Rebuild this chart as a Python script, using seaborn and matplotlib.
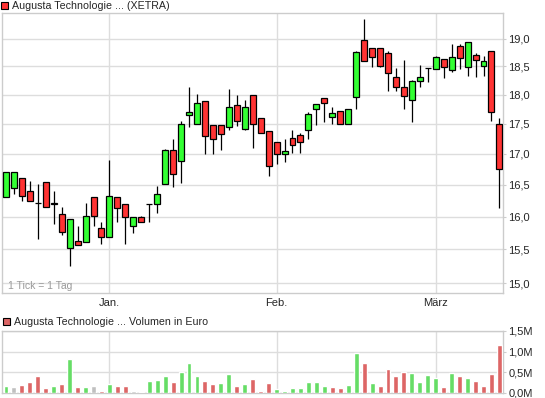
import numpy as np
import pandas as pd
import matplotlib
matplotlib.use("Agg")
import matplotlib.pyplot as plt
from matplotlib.patches import Rectangle
from matplotlib.ticker import FixedLocator, FuncFormatter, NullLocator
import seaborn as sns

sns.set_style("white")
plt.rcParams["font.family"] = ["Liberation Sans", "DejaVu Sans"]

# daily XETRA candles, Dec 2010 - Mar 2011
dates = pd.bdate_range("2010-12-15", "2011-03-11")
opens = [16.31, 16.44, 16.60, 16.40, 16.21, 16.55, 16.21, 16.04, 15.52, 15.63,
         15.61, 16.30, 15.83, 15.69, 16.30, 16.20, 15.85, 15.99, 16.20, 16.20,
         16.51, 17.06, 16.88, 17.65, 17.50, 17.89, 17.48, 17.48, 17.45, 17.82,
         17.42, 18.00, 17.60, 17.38, 17.19, 17.00, 17.26, 17.31, 17.40, 17.76,
         17.95, 17.62, 17.72, 17.50, 17.96, 18.98, 18.83, 18.83, 18.74, 18.31,
         18.13, 17.91, 18.24, 18.47, 18.45, 18.63, 18.44, 18.87, 18.49, 18.70,
         18.51, 18.77, 17.50]
highs = [16.71, 16.70, 16.60, 16.56, 16.51, 16.55, 16.40, 16.15, 15.96, 15.86,
         16.21, 16.30, 15.92, 16.90, 16.30, 16.20, 15.99, 16.01, 16.20, 16.48,
         17.08, 17.24, 17.55, 18.14, 18.02, 17.89, 17.48, 17.48, 18.10, 18.00,
         17.91, 18.00, 17.60, 17.38, 17.19, 17.24, 17.40, 17.34, 17.70, 17.84,
         17.95, 17.79, 17.72, 17.76, 18.77, 19.37, 18.83, 18.83, 18.77, 18.47,
         18.62, 18.26, 18.53, 18.47, 18.69, 18.63, 18.91, 18.91, 18.94, 18.74,
         18.69, 18.77, 17.60]
lows = [16.31, 16.36, 16.25, 16.24, 15.66, 16.15, 15.88, 15.71, 15.26, 15.56,
        15.61, 15.86, 15.58, 15.69, 15.92, 15.58, 15.75, 15.92, 15.91, 16.05,
        16.51, 16.46, 16.53, 17.45, 17.50, 17.00, 17.00, 17.06, 17.40, 17.46,
        17.40, 17.10, 17.34, 16.64, 16.83, 16.87, 17.02, 17.02, 17.24, 17.48,
        17.54, 17.50, 17.50, 17.50, 17.75, 18.60, 18.49, 18.49, 18.06, 18.06,
        17.76, 17.53, 18.13, 18.22, 18.45, 18.29, 18.40, 18.45, 18.33, 18.31,
        18.33, 17.55, 16.13]
closes = [16.70, 16.70, 16.32, 16.24, 16.21, 16.15, 16.19, 15.77, 15.96, 15.56,
          16.01, 16.01, 15.69, 16.32, 16.13, 15.99, 15.99, 15.92, 16.20, 16.36,
          17.06, 16.68, 17.49, 17.71, 17.85, 17.29, 17.24, 17.33, 17.79, 17.55,
          17.79, 17.50, 17.34, 16.80, 17.00, 17.05, 17.14, 17.19, 17.67, 17.84,
          17.86, 17.69, 17.50, 17.76, 18.76, 18.60, 18.67, 18.51, 18.38, 18.13,
          17.98, 18.24, 18.31, 18.47, 18.67, 18.49, 18.67, 18.65, 18.94, 18.62,
          18.60, 17.70, 16.75]
# Umsatz in Mio. Euro
volume = [0.17, 0.15, 0.19, 0.27, 0.40, 0.11, 0.17, 0.22, 0.82, 0.14,
          0.14, 0.17, 0.06, 0.22, 0.17, 0.17, 0.06, 0.03, 0.28, 0.31,
          0.41, 0.27, 0.51, 0.72, 0.41, 0.29, 0.22, 0.23, 0.47, 0.17,
          0.22, 0.34, 0.06, 0.24, 0.09, 0.06, 0.11, 0.11, 0.26, 0.26,
          0.17, 0.14, 0.11, 0.19, 0.96, 0.72, 0.24, 0.17, 0.57, 0.42,
          0.51, 0.49, 0.27, 0.44, 0.37, 0.14, 0.49, 0.42, 0.37, 0.29,
          0.17, 0.47, 1.15]

price_ticks = [15.0, 15.5, 16.0, 16.5, 17.0, 17.5, 18.0, 18.5, 19.0]
volume_ticks = [0.0, 0.5, 1.0, 1.5]
month_names = {1: "Jan.", 2: "Feb.", 3: "März"}

RED, GREEN = "#ff3333", "#33ff33"
VRED, VGREEN, VGRAY = "#dd6666", "#66dd66", "#c0c0c0"
GRID = "#dddddd"

o = np.array(opens)
c = np.array(closes)
x = np.arange(len(dates))
month_pos = [i for i in x if i == 0 or dates[i].month != dates[i - 1].month][1:]
month_lbl = [month_names[dates[i].month] for i in month_pos]

chg = np.sign(np.diff(np.concatenate([[c[0] - 1], c])))
vdf = pd.DataFrame({"x": x, "vol": volume,
                    "dir": np.where(chg > 0, "up", np.where(chg < 0, "down", "flat"))})

fig = plt.figure(figsize=(5.45, 3.98), dpi=100)
W, H = 545, 398
ax = fig.add_axes([2 / W, 1 - 293 / H, 501 / W, 280 / H])
axv = fig.add_axes([2 / W, 1 - 393 / H, 501 / W, 62 / H])

# candles
ax.vlines(x, lows, highs, color="black", lw=0.9, zorder=2)
ax.bar(x, np.abs(c - o), bottom=np.minimum(o, c), width=0.75,
       color=np.where(c >= o, GREEN, RED), edgecolor="black", linewidth=0.9, zorder=3)
ax.set_yscale("log")
ax.set_ylim(14.86, 19.48)
ax.set_xlim(-0.5, 62.45)
ax.yaxis.set_major_locator(FixedLocator(price_ticks))
ax.yaxis.set_minor_locator(NullLocator())
ax.yaxis.set_major_formatter(FuncFormatter(lambda v, p: f"{v:.1f}".replace(".", ",")))
ax.yaxis.tick_right()
ax.set_xticks(month_pos)
ax.set_xticklabels(month_lbl)
ax.grid(True, color=GRID, lw=1, zorder=0)
ax.tick_params(axis="y", length=2, color="#cccccc", pad=2, labelsize=8)
ax.tick_params(axis="x", length=2, color="#cccccc", pad=1.5, labelsize=8)
ax.text(0.0126, 0.008, "1 Tick = 1 Tag", transform=ax.transAxes, color="#999999",
        fontsize=7.5, ha="left", va="bottom")

# volume
sns.barplot(data=vdf, x="x", y="vol", hue="dir", native_scale=True, dodge=False,
            palette={"up": VGREEN, "down": VRED, "flat": VGRAY}, saturation=1,
            width=0.62, legend=False, ax=axv, zorder=3)
axv.set_xlim(-0.5, 62.45)
axv.set_ylim(0, 1.5)
axv.set_xticks(month_pos)
axv.set_xticklabels([])
axv.yaxis.set_major_locator(FixedLocator(volume_ticks))
axv.yaxis.set_major_formatter(FuncFormatter(lambda v, p: f"{v:.1f}M".replace(".", ",")))
axv.yaxis.tick_right()
axv.set_xlabel("")
axv.set_ylabel("")
axv.grid(True, color=GRID, lw=1, zorder=0)
axv.set_axisbelow(True)
axv.tick_params(axis="y", length=2, color="#cccccc", pad=2, labelsize=8)
axv.tick_params(axis="x", length=0)

for a in (ax, axv):
    for s in a.spines.values():
        s.set_color("#cccccc")
        s.set_linewidth(1)

# titles with colour squares
fig.add_artist(Rectangle((1 / W, 1 - 9 / H), 7 / W, 7 / H, transform=fig.transFigure,
                         facecolor=RED, edgecolor="black", lw=0.8))
fig.text(12 / W, 1 - 6 / H, "Augusta Technologie ... (XETRA)", fontsize=7.7, va="center")
fig.add_artist(Rectangle((3 / W, 1 - 325 / H), 7 / W, 7 / H, transform=fig.transFigure,
                         facecolor=VRED, edgecolor="black", lw=0.8))
fig.text(14 / W, 1 - 322 / H, "Augusta Technologie ... Volumen in Euro", fontsize=7.7,
         va="center")

fig.savefig("out.png", dpi=100)
